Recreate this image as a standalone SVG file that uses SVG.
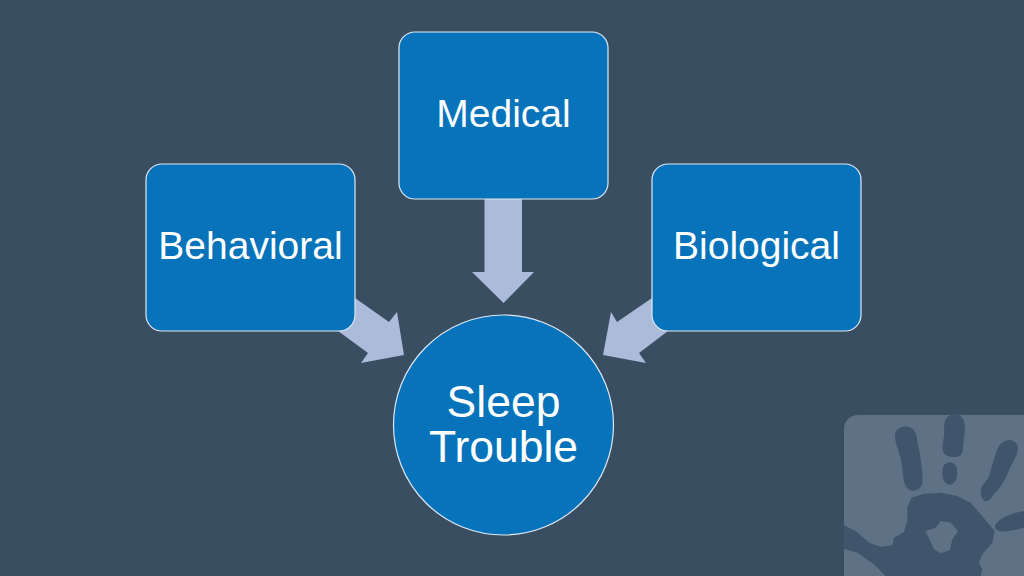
<svg xmlns="http://www.w3.org/2000/svg" width="1024" height="576" viewBox="0 0 1024 576">
<style>
.n{fill:#0673ba;stroke:#dfe8f2;stroke-width:1.2}
.a{fill:#abbbd9}
.h{fill:#3f556b}
text{font-family:"Liberation Sans",Arial,sans-serif;fill:#fff;text-anchor:middle}
.s{font-size:39px}
.l{font-size:44.5px}
</style>
<rect width="1024" height="576" fill="#3a4e62"/>
<g id="logo">
<path d="M1024 415H858a14 14 0 0 0-14 14V576H1024Z" fill="#5f7285"/>
<g class="h" transform="translate(824 396) scale(.3333)">
<path d="M213 118C215 96 235 88 255 93C272 98 279 115 280 135C281 150 289 170 290 190C293 215 298 240 295 262C290 282 270 289 255 281C240 270 237 245 236 225C234 200 228 180 222 160C216 145 212 130 213 118Z"/>
<path d="M361 85C363 62 380 52 397 55C415 58 423 75 423 95C423 115 418 135 417 155C417 170 412 182 395 183C375 185 358 178 356 160C354 140 362 125 360 110Z"/>
<path d="M377 199C392 199 400 212 400 228C400 250 392 266 376 266C360 265 354 245 355 228C355 212 362 199 377 199Z"/>
<path d="M522 155C530 138 550 128 568 134C582 142 585 160 578 178C568 198 556 218 548 240C538 262 525 280 510 295C500 312 488 322 478 312C468 300 468 280 476 266C488 256 494 245 499 228C505 205 512 178 522 155Z"/>
<path d="M513 388C525 368 555 352 600 345V395C575 402 545 410 525 405C517 403 512 396 513 388Z"/>
<path fill-rule="evenodd" d="M60 388L95 405L135 440L170 452L205 448L210 425L240 408L250 375L250 335L262 305L300 293L350 290L400 300L440 320L470 355L495 385L512 405L505 440L475 475L465 500L475 520L470 540H185L150 505L100 470L60 458ZM305 405L335 395L350 375L380 380L402 405L385 430L378 462L350 472L330 460Z"/>
</g>
</g>
<g id="connectors">
<path class="a" d="M484.5 199H522V272H534L503.500 303L472 272H484.500Z"/>
<path class="a" d="M355 298L389 322L397 312L404 355L361 363L368 353L338 331Z"/>
<path class="a" d="M652 298L617 322L611 312L603 355L646 363L639 353L668 331Z"/>
</g>
<g id="medical">
<rect class="n" x="399" y="32" width="209" height="167" rx="16"/>
<text class="s" x="503.500" y="127">Medical</text>
</g>
<g id="behavioral">
<rect class="n" x="146" y="164" width="209" height="167" rx="16"/>
<text class="s" x="250.500" y="259">Behavioral</text>
</g>
<g id="biological">
<rect class="n" x="652" y="164" width="209" height="167" rx="16"/>
<text class="s" x="756.500" y="259">Biological</text>
</g>
<g id="sleep-trouble">
<circle class="n" cx="503.500" cy="425" r="110"/>
<text class="l" x="503.500" y="417">Sleep</text>
<text class="l" x="503.500" y="462">Trouble</text>
</g>
</svg>
